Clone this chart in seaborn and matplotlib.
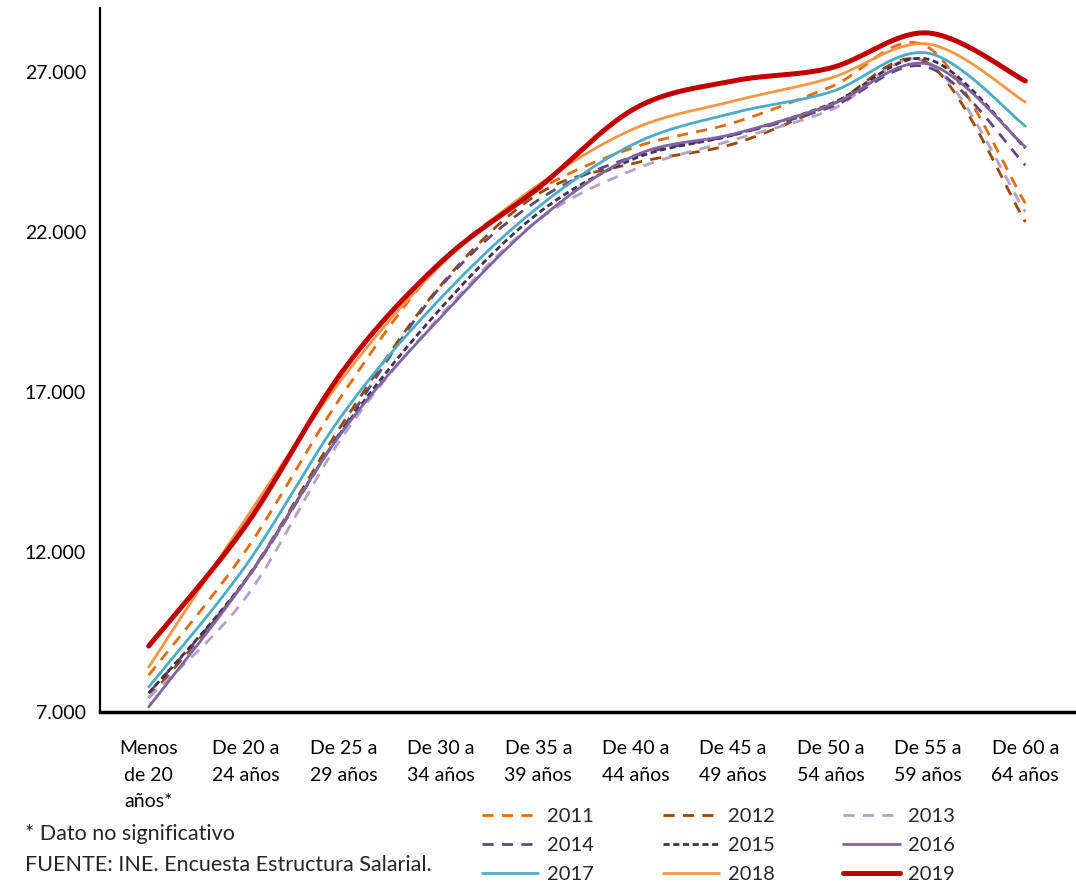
import numpy as np
import pandas as pd
import seaborn as sns
import matplotlib.pyplot as plt
from matplotlib.ticker import FuncFormatter

grupos = ['Menos\nde 20\naños*', 'De 20 a\n24 años', 'De 25 a\n29 años', 'De 30 a\n34 años',
          'De 35 a\n39 años', 'De 40 a\n44 años', 'De 45 a\n49 años', 'De 50 a\n54 años',
          'De 55 a\n59 años', 'De 60 a\n64 años']

anios = ['2011', '2012', '2013', '2014', '2015', '2016', '2017', '2018', '2019']

s2011 = [8150, 12060, 16970, 21030, 23310, 24660, 25410, 26530, 27780, 22900]
s2012 = [7440, 11150, 16060, 20340, 23190, 24160, 24750, 25970, 27280, 22310]
s2013 = [7450, 10590, 15650, 19400, 22380, 23970, 24875, 25810, 27310, 22625]
s2014 = [7590, 11125, 15900, 20300, 23000, 24380, 25030, 25900, 27150, 24090]
s2015 = [7590, 11150, 15850, 19620, 22590, 24310, 25030, 26000, 27400, 24625]
s2016 = [7160, 11125, 15810, 19340, 22375, 24400, 25060, 25970, 27250, 24660]
s2017 = [7780, 11590, 16340, 19940, 22780, 24780, 25720, 26375, 27590, 25310]
s2018 = [8400, 13060, 17470, 20970, 23470, 25250, 26090, 26810, 27875, 26060]
s2019 = [9060, 12840, 17690, 21060, 23375, 25875, 26720, 27125, 28220, 26720]

series = {'2011': s2011, '2012': s2012, '2013': s2013, '2014': s2014, '2015': s2015,
          '2016': s2016, '2017': s2017, '2018': s2018, '2019': s2019}

estilos = {
    '2011': dict(color='#E46C0A', lw=2, ls=(0, (4, 3))),
    '2012': dict(color='#984807', lw=2, ls=(0, (4, 3))),
    '2013': dict(color='#B3A2C7', lw=2, ls=(0, (4, 3))),
    '2014': dict(color='#604A7B', lw=2, ls=(0, (4, 3))),
    '2015': dict(color='#3F3151', lw=2, ls=(0, (2.2, 1.3))),
    '2016': dict(color='#8064A2', lw=2, ls='-'),
    '2017': dict(color='#4BACC6', lw=2, ls='-'),
    '2018': dict(color='#F79646', lw=2, ls='-'),
    '2019': dict(color='#C00000', lw=3.6, ls='-'),
}


def suavizar(y, n=40):
    # curva tipo Excel (bezier entre puntos)
    x = np.arange(len(y), dtype=float)
    p = np.column_stack([x, np.asarray(y, dtype=float)])
    xs, ys = [], []
    t = np.linspace(0, 1, n)[:, None]
    for i in range(len(p) - 1):
        p0 = p[i - 1] if i > 0 else p[i]
        p1, p2 = p[i], p[i + 1]
        p3 = p[i + 2] if i + 2 < len(p) else p[i + 1]
        c1 = p1 + (p2 - p0) / 6
        c2 = p2 - (p3 - p1) / 6
        b = ((1 - t) ** 3) * p1 + 3 * ((1 - t) ** 2) * t * c1 + 3 * (1 - t) * t ** 2 * c2 + t ** 3 * p2
        xs.append(b[:, 0])
        ys.append(b[:, 1])
    return np.concatenate(xs), np.concatenate(ys)


def main():
    sns.set_style('white')
    plt.rcParams['font.family'] = ['Lato', 'DejaVu Sans']
    fig = plt.figure(figsize=(10.76, 8.92), dpi=100)
    ax = fig.add_axes([100 / 1076, 1 - 712 / 892, 974 / 1076, 704 / 892])

    for a in anios:
        xs, ys = suavizar(series[a])
        df = pd.DataFrame({'x': xs, 'y': ys})
        e = estilos[a]
        sns.lineplot(data=df, x='x', y='y', ax=ax, color=e['color'], lw=e['lw'],
                     linestyle=e['ls'], label=a, sort=False, estimator=None,
                     solid_capstyle='round', dash_capstyle='butt')

    ax.set_xlim(-0.5, len(grupos) - 0.5)
    ax.set_ylim(7000, 29000)
    ax.set_yticks([7000, 12000, 17000, 22000, 27000])
    ax.yaxis.set_major_formatter(FuncFormatter(lambda v, p: f'{v:,.0f}'.replace(',', '.')))
    ax.set_xticks(range(len(grupos)))
    ax.set_xticklabels(grupos, linespacing=1.7)
    ax.tick_params(axis='both', length=0, labelsize=14, colors='black')
    ax.tick_params(axis='x', pad=20)
    ax.tick_params(axis='y', pad=10)
    ax.set_xlabel('')
    ax.set_ylabel('')
    for s in ['top', 'right']:
        ax.spines[s].set_visible(False)
    ax.spines['left'].set_color('black')
    ax.spines['left'].set_linewidth(1.6)
    ax.spines['bottom'].set_color('black')
    ax.spines['bottom'].set_linewidth(2.5)

    h, l = ax.get_legend_handles_labels()
    ax.get_legend().remove()
    orden = [0, 3, 6, 1, 4, 7, 2, 5, 8]
    fig.legend([h[i] for i in orden], [l[i] for i in orden], ncol=3, frameon=False,
               loc='upper left', bbox_to_anchor=(482 / 1076, 1 - 808 / 892),
               borderpad=0, borderaxespad=0, fontsize=14.5, handlelength=2.8,
               handletextpad=0.44, columnspacing=3.4, labelspacing=0.58)

    fig.text(25 / 1076, 1 - 834 / 892, '* Dato no significativo', fontsize=15.5, va='center')
    fig.text(25 / 1076, 1 - 865 / 892, 'FUENTE: INE. Encuesta Estructura Salarial.',
             fontsize=15.5, va='center')

    fig.savefig('out.png', dpi=100)


if __name__ == "__main__":
    main()
